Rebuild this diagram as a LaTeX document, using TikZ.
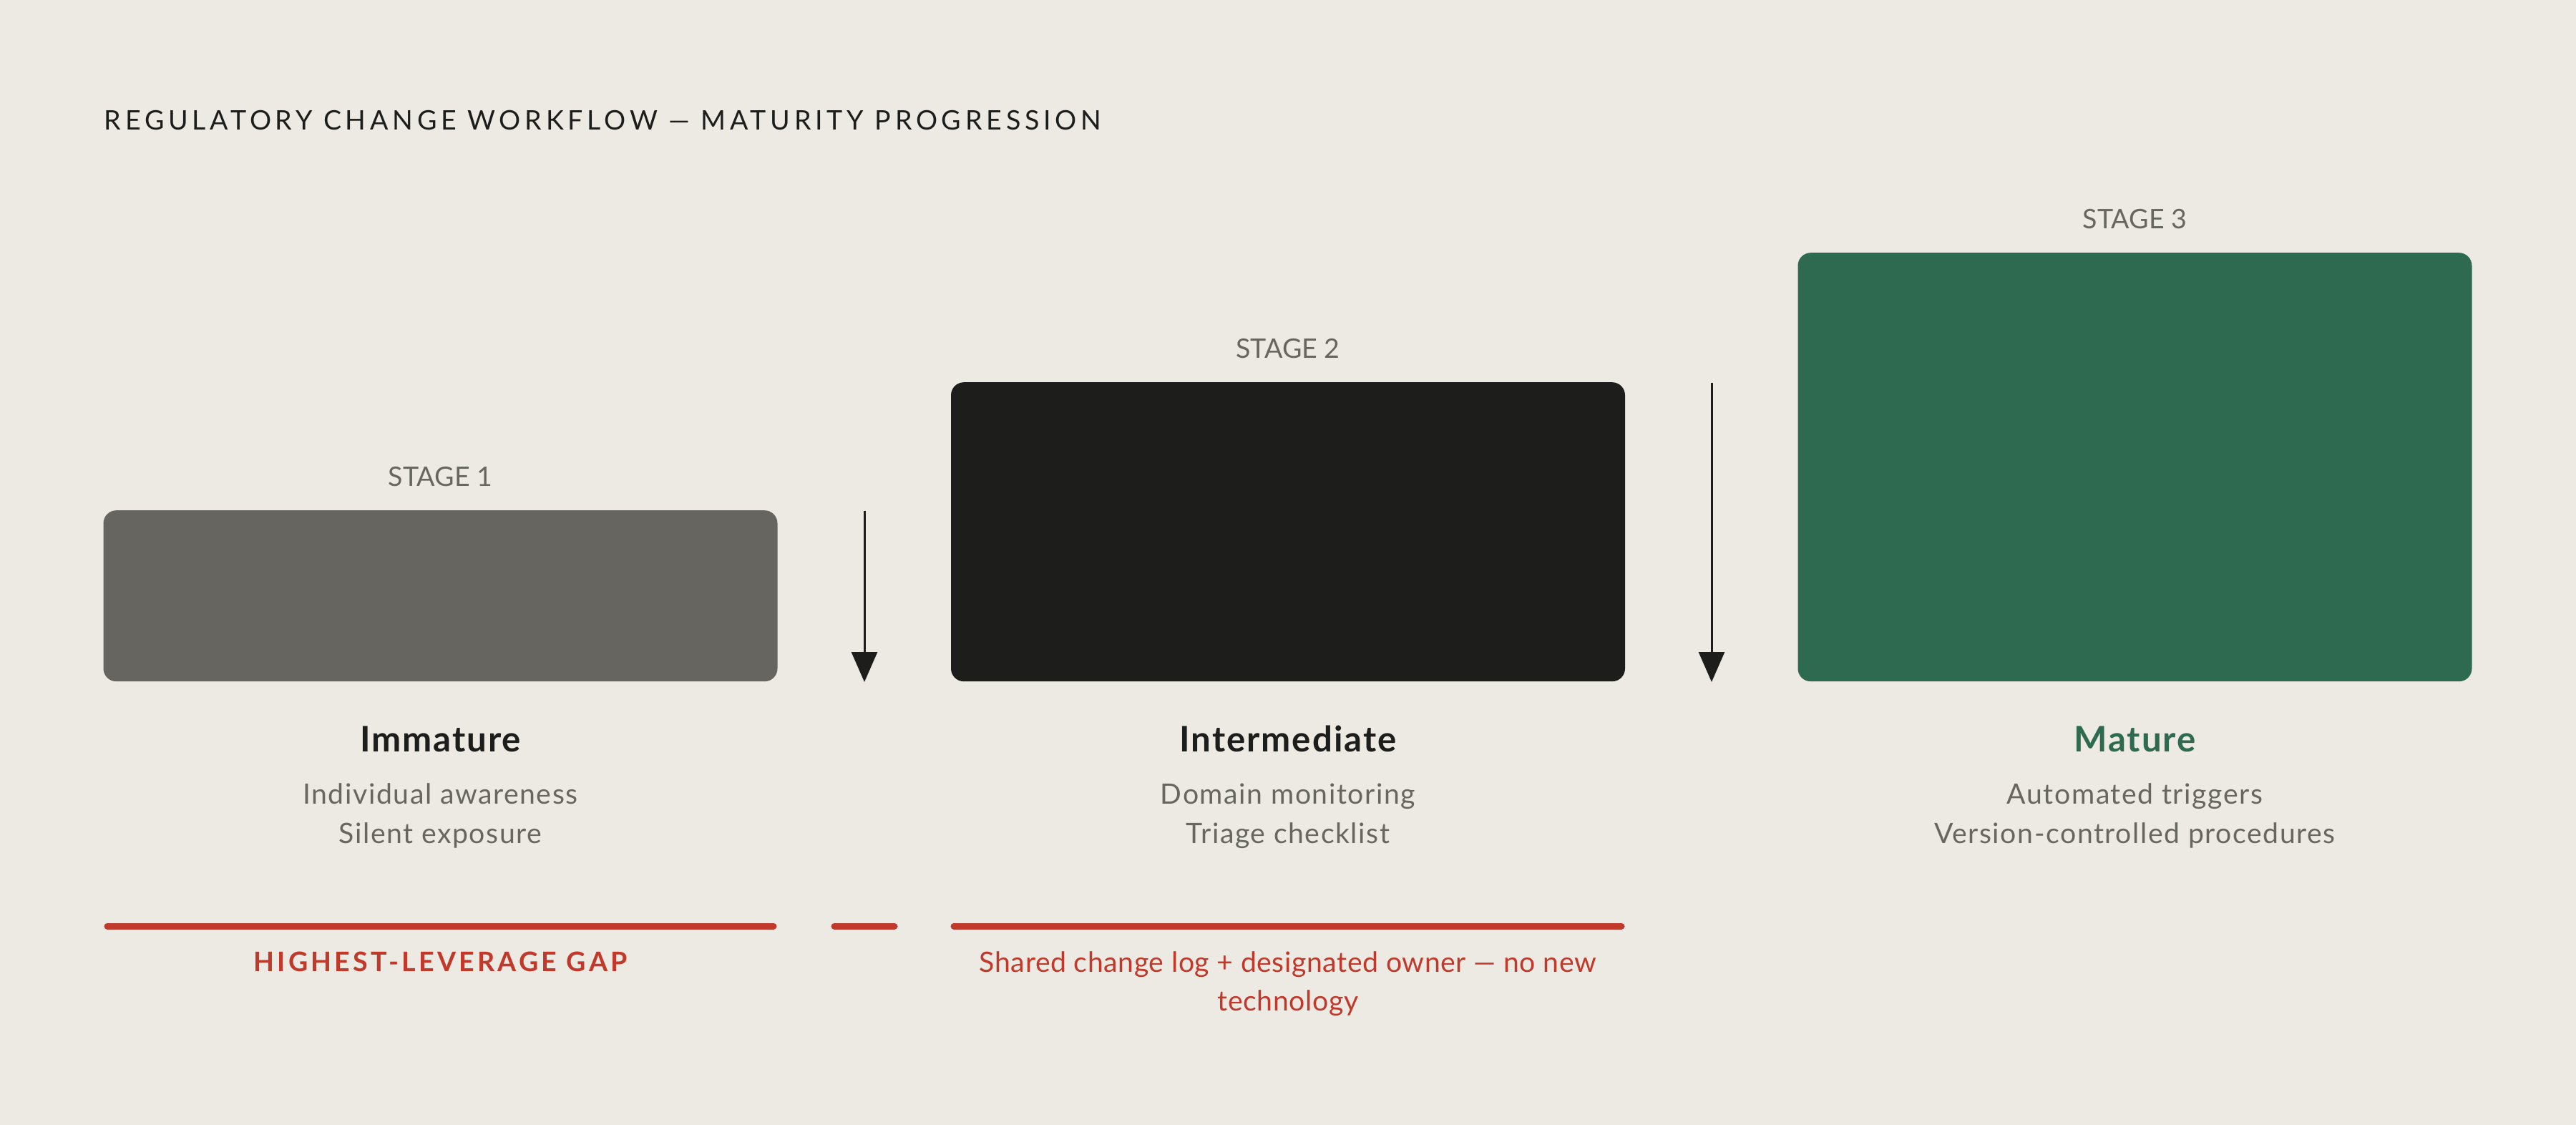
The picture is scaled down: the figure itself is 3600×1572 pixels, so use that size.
\documentclass[tikz,border=0pt]{standalone}
\usepackage{fontspec}
\setmainfont{Lato}
\usetikzlibrary{arrows.meta}
\definecolor{bg}{HTML}{EDEAE4}
\definecolor{ink}{HTML}{1D1D1B}
\definecolor{greybox}{HTML}{666560}
\definecolor{greentone}{HTML}{2D6A50}
\definecolor{redtone}{HTML}{C0392B}
\definecolor{greytext}{HTML}{67665F}
\begin{document}
\begin{tikzpicture}[x=0.25pt,y=-0.25pt,
  stagebox/.style={rectangle, rounded corners=4.5pt, minimum width=235.5pt, inner sep=0pt, anchor=south},
  stagelabel/.style={anchor=base, inner sep=0pt, text=greytext, font=\fontsize{9.4}{11}\selectfont},
  stagename/.style={anchor=base, inner sep=0pt, font=\fontsize{12.3}{14}\selectfont\bfseries\addfontfeature{LetterSpace=4}},
  subline/.style={anchor=base, inner sep=0pt, text=greytext, font=\fontsize{9.8}{11}\selectfont\addfontfeature{LetterSpace=4}},
  redline/.style={anchor=base, inner sep=0pt, text=redtone, font=\fontsize{9.8}{11}\selectfont\addfontfeature{LetterSpace=1.5}},
  flowarrow/.style={draw=ink, line width=0.75pt, -{Triangle[length=10.5pt,width=9pt]}, shorten >=0pt},
  gapline/.style={draw=redtone, line width=2.25pt, line cap=round}]
\fill[bg] (0,0) rectangle (3600,1572);
\useasboundingbox (0,0) rectangle (3600,1572);

% title
\node[anchor=base west, inner sep=0pt, text=ink, font=\fontsize{9.4}{11}\selectfont\addfontfeature{LetterSpace=15.3}] (title) at (145,182) {REGULATORY CHANGE WORKFLOW — MATURITY PROGRESSION};

% boxes
\node[stagebox, fill=greybox, minimum height=59.75pt] (b1) at (615.5,953) {};
\node[stagebox, fill=ink, minimum height=104.5pt] (b2) at (1800,953) {};
\node[stagebox, fill=greentone, minimum height=149.75pt] (b3) at (2983.5,953) {};

% stage labels
\node[stagelabel] (s1) at (615.5,680) {STAGE 1};
\node[stagelabel] (s2) at (1800,501) {STAGE 2};
\node[stagelabel] (s3) at (2983.5,320) {STAGE 3};

% arrows
\coordinate (a1s) at (1208,714);
\coordinate (a1e) at (1208,953);
\coordinate (a2s) at (2392,535);
\coordinate (a2e) at (2392,953);
\draw[flowarrow] (a1s) -- (a1e);
\draw[flowarrow] (a2s) -- (a2e);

% names
\node[stagename, text=ink] (n1) at (615.5,1050) {Immature};
\node[stagename, text=ink] (n2) at (1800,1050) {Intermediate};
\node[stagename, text=greentone] (n3) at (2983.5,1050) {Mature};

\node[subline] (d1a) at (615.5,1123) {Individual awareness};
\node[subline] (d1b) at (615.5,1178) {Silent exposure};
\node[subline] (d2a) at (1800,1123) {Domain monitoring};
\node[subline] (d2b) at (1800,1178) {Triage checklist};
\node[subline] (d3a) at (2983.5,1123) {Automated triggers};
\node[subline] (d3b) at (2983.5,1178) {Version-controlled procedures};

% red gap lines
\coordinate (g1s) at (150,1294);
\coordinate (g1e) at (1081,1294);
\coordinate (g2s) at (1166,1294);
\coordinate (g2e) at (1250,1294);
\coordinate (g3s) at (1333,1294);
\coordinate (g3e) at (2266,1294);
\draw[gapline] (g1s) -- (g1e);
\draw[gapline] (g2s) -- (g2e);
\draw[gapline] (g3s) -- (g3e);

\node[anchor=base, inner sep=0pt, text=redtone, font=\fontsize{9.4}{11}\selectfont\bfseries\addfontfeature{LetterSpace=11.3}] (gap) at (615.5,1357) {HIGHEST-LEVERAGE GAP};
\node[redline] (r1) at (1800,1358) {Shared change log + designated owner — no new};
\node[redline] (r2) at (1800,1412) {technology};
\end{tikzpicture}
\end{document}
